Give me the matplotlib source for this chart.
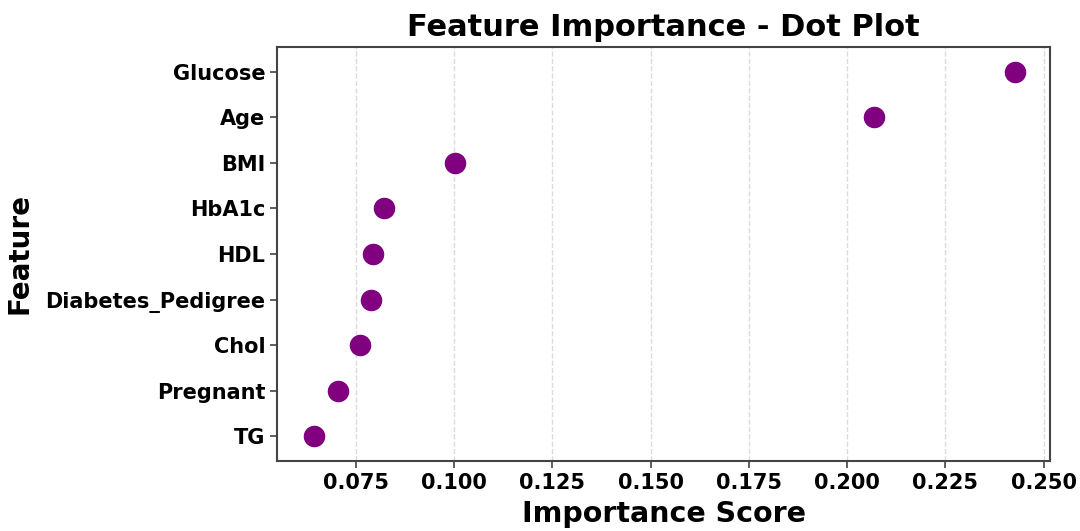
import matplotlib
matplotlib.use("Agg")
import matplotlib.pyplot as plt

# Feature importance values
features = ["Glucose", "Age", "BMI", "HbA1c", "HDL", "Diabetes_Pedigree", "Chol", "Pregnant", "TG"]
importance = [0.2426, 0.2069, 0.1003, 0.0821, 0.0793, 0.0789, 0.0760, 0.0704, 0.0644]
xticks = [0.075, 0.100, 0.125, 0.150, 0.175, 0.200, 0.225, 0.250]

fig = plt.figure(figsize=(10.8, 5.31), dpi=100)
ax = fig.add_axes([277 / 1080, 1 - 461 / 531, (1050 - 277) / 1080, (461 - 47) / 531])

# plot from top to bottom
ypos = list(range(len(features)))[::-1]
ax.scatter(importance, ypos, s=210, color="purple", zorder=3)

ax.set_yticks(ypos)
ax.set_yticklabels(features, fontsize=15, fontweight="bold")
ax.set_xticks(xticks)
ax.set_xticklabels([f"{t:.3f}" for t in xticks], fontsize=15, fontweight="bold")
ax.set_xlim(0.0550, 0.2516)
ax.set_ylim(-0.54, 8.54)

ax.grid(axis="x", linestyle="--", color="#cccccc", alpha=0.7, linewidth=1)
ax.set_axisbelow(True)

for sp in ax.spines.values():
    sp.set_color("#444444")
    sp.set_linewidth(1.5)
ax.tick_params(color="#444444", width=1.2, length=5)

ax.set_title("Feature Importance - Dot Plot", fontsize=22, fontweight="bold", pad=8)
ax.set_xlabel("Importance Score", fontsize=20.5, fontweight="bold", labelpad=5)
ax.set_ylabel("Feature", fontsize=20, fontweight="bold", labelpad=8)

fig.savefig("out.png", dpi=100)
